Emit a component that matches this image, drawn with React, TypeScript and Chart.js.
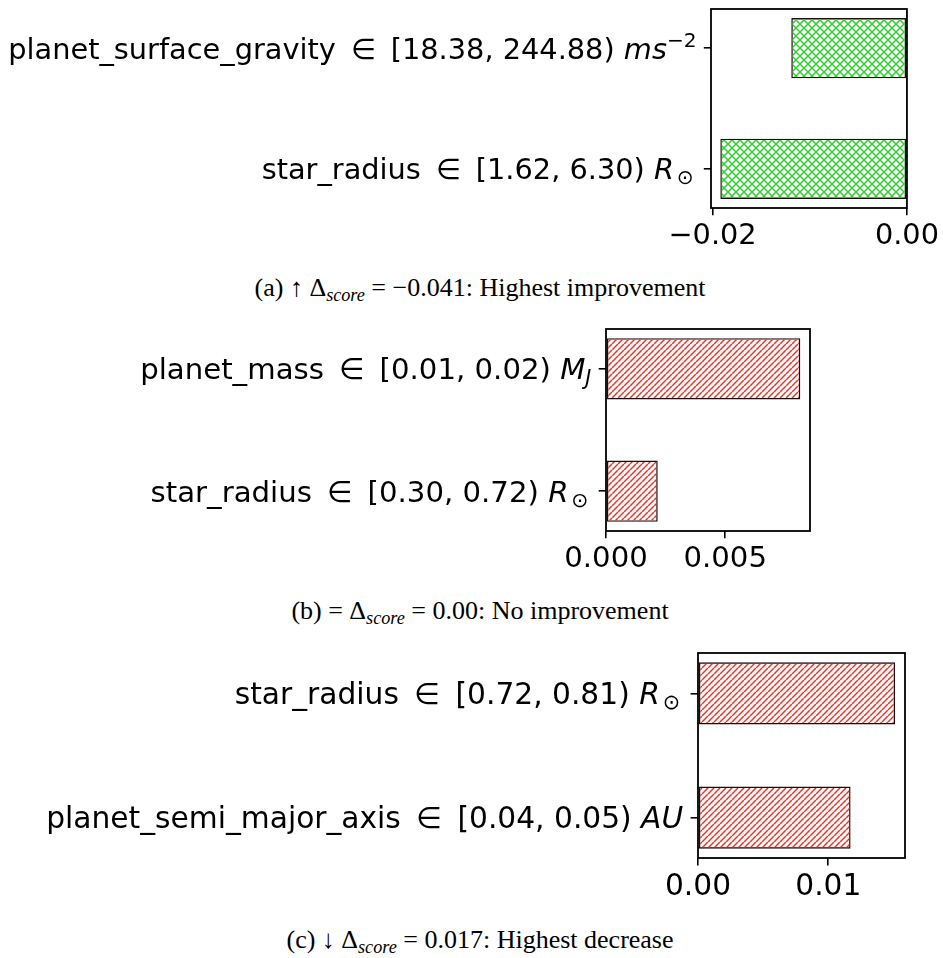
import React, { useEffect, useRef } from "react";
import { Chart, registerables } from "chart.js";
Chart.register(...registerables);

// ---------- data (top-to-bottom order) ----------
const namesA = ["planet_surface_gravity", "star_radius"];
const rangesA = ["[18.38, 244.88)", "[1.62, 6.30)"];
const unitBaseA = ["ms", "R"];
const unitSupA = ["−2", ""];
const unitSubA = ["", "⊙"];
const valuesA = [-0.0119, -0.0192];
const tickValsA = [-0.02, 0];
const tickLabelsA = ["−0.02", "0.00"];

const namesB = ["planet_mass", "star_radius"];
const rangesB = ["[0.01, 0.02)", "[0.30, 0.72)"];
const unitBaseB = ["M", "R"];
const unitSupB = ["", ""];
const unitSubB = ["J", "⊙"];
const valuesB = [0.00815, 0.00217];
const tickValsB = [0, 0.005];
const tickLabelsB = ["0.000", "0.005"];

const namesC = ["star_radius", "planet_semi_major_axis"];
const rangesC = ["[0.72, 0.81)", "[0.04, 0.05)"];
const unitBaseC = ["R", "AU"];
const unitSupC = ["", ""];
const unitSubC = ["⊙", ""];
const valuesC = [0.01513, 0.01171];
const tickValsC = [0, 0.01];
const tickLabelsC = ["0.00", "0.01"];

const captionPrefix = ["(a) ↑ Δ", "(b) = Δ", "(c) ↓ Δ"];
const captionSub = ["score", "score", "score"];
const captionSuffix = [" = −0.041: Highest improvement", " = 0.00: No improvement", " = 0.017: Highest decrease"];

// ---------- styling ----------
const FAM = "'DejaVu Sans'";

function makeHatch(kind: string, color: string, p: number, lw: number) {
  const c = document.createElement("canvas");
  c.width = p;
  c.height = p;
  const g = c.getContext("2d")!;
  g.strokeStyle = color;
  g.lineWidth = lw;
  for (const off of [-p, 0, p]) {
    g.beginPath();
    g.moveTo(off, p);
    g.lineTo(off + p, 0);
    g.stroke();
    if (kind === "x") {
      g.beginPath();
      g.moveTo(off, 0);
      g.lineTo(off + p, p);
      g.stroke();
    }
  }
  return g.createPattern(c, "repeat");
}

type PanelProps = {
  top: number;
  height: number;
  L: number;
  R: number;
  T: number;
  B: number;
  fs: number;
  names: string[];
  ranges: string[];
  unitBase: string[];
  unitSup: string[];
  unitSub: string[];
  values: number[];
  tickVals: number[];
  tickLabels: string[];
  hatch: string;
  hatchColor: string;
  hatchPeriod: number;
};

function Panel(props: PanelProps) {
  const ref = useRef<HTMLCanvasElement | null>(null);
  useEffect(() => {
    const {
      top, height, L, R, T, B, fs, names, ranges, unitBase, unitSup, unitSub,
      values, tickVals, tickLabels, hatch, hatchColor, hatchPeriod,
    } = props;
    const canvas = ref.current!;
    const pattern = makeHatch(hatch, hatchColor, hatchPeriod, 1.5);
    const k = fs / 28;

    const lo = Math.min(0, ...values);
    const hi = Math.max(0, ...values);
    const span = hi - lo;
    const xmin = lo < 0 ? lo - 0.05 * span : 0;
    const xmax = hi > 0 ? hi + 0.05 * span : 0;
    const half = 0.25;
    const ypad = 0.05 * (names.length - 1 + 2 * half);
    const relGap = 0.2 * fs;

    const labelPlugin = {
      id: "ylabels",
      afterDraw(chart: any) {
        const ctx = chart.ctx as CanvasRenderingContext2D;
        const ys = chart.scales.y;
        ctx.save();
        ctx.fillStyle = "#000";
        ctx.textBaseline = "alphabetic";
        ctx.textAlign = "left";
        const rf = `${fs}px ${FAM}`;
        const sf = `${fs * 0.7}px ${FAM}`;
        names.forEach((name, i) => {
          const segs: any[] = [];
          segs.push({ t: name + " ", font: rf, dy: 0 });
          segs.push({ gap: relGap });
          segs.push({ t: "∈", font: rf, dy: 0 });
          segs.push({ gap: relGap });
          segs.push({ t: " " + ranges[i] + " ", font: rf, dy: 0 });
          segs.push({ t: unitBase[i], font: `italic ${fs}px ${FAM}`, dy: 0 });
          if (unitSup[i]) segs.push({ t: unitSup[i], font: sf, dy: -0.4 * fs });
          if (unitSub[i]) {
            if (unitSub[i] === "⊙") {
              segs.push({ gap: 0.1 * fs });
              segs.push({ t: unitSub[i], font: sf, dy: 0.18 * fs });
              segs.push({ gap: 0.1 * fs });
            } else {
              segs.push({ t: unitSub[i], font: `italic ${fs * 0.7}px ${FAM}`, dy: 0.18 * fs });
            }
          }
          let total = 0;
          for (const s of segs) {
            if (s.gap) total += s.gap;
            else {
              ctx.font = s.font;
              s.w = ctx.measureText(s.t).width;
              total += s.w;
            }
          }
          const yb = ys.getPixelForValue(i) + 0.36 * fs;
          let x = chart.chartArea.left - 14 * k - total;
          for (const s of segs) {
            if (s.gap) { x += s.gap; continue; }
            ctx.font = s.font;
            ctx.fillText(s.t, x, yb + s.dy);
            x += s.w;
          }
        });
        ctx.restore();
      },
    };

    const framePlugin = {
      id: "frame",
      afterDatasetsDraw(chart: any) {
        const ctx = chart.ctx as CanvasRenderingContext2D;
        const a = chart.chartArea;
        ctx.save();
        ctx.strokeStyle = "#000";
        ctx.lineWidth = 1.8;
        ctx.strokeRect(a.left, a.top, a.right - a.left, a.bottom - a.top);
        ctx.restore();
      },
    };

    const gridOpts = {
      display: true,
      drawOnChartArea: false,
      drawTicks: true,
      offset: false,
      tickLength: 7 * k,
      lineWidth: 1.6,
      tickWidth: 1.6,
      color: "#000",
      tickColor: "#000",
    };

    const chart = new Chart(canvas, {
      type: "bar",
      data: {
        datasets: [
          {
            data: values.map((v, i) => ({ x: v, y: i })),
            backgroundColor: pattern as any,
            borderColor: "#1a0d0d",
            borderWidth: 1.4,
            borderSkipped: false,
            barPercentage: 0.5,
            categoryPercentage: 1,
          },
        ],
      },
      options: {
        indexAxis: "y",
        responsive: false,
        animation: false,
        layout: { padding: { top: T - top, right: 943 - R, left: 0, bottom: 0 }, autoPadding: false } as any,
        plugins: { legend: { display: false }, tooltip: { enabled: false } },
        scales: {
          x: {
            type: "linear",
            position: "bottom",
            min: xmin,
            max: xmax,
            offset: false,
            afterBuildTicks: (s: any) => {
              s.ticks = tickVals.map((v) => ({ value: v }));
            },
            afterFit: (s: any) => {
              s.height = height - (B - top);
            },
            ticks: {
              callback: (_v: any, i: number) => tickLabels[i],
              font: { family: "DejaVu Sans", size: fs },
              color: "#000",
              padding: 4,
              maxRotation: 0,
              autoSkip: false,
            },
            grid: gridOpts,
            border: { display: false },
          },
          y: {
            type: "linear",
            position: "left",
            reverse: true,
            offset: false,
            min: -half - ypad,
            max: names.length - 1 + half + ypad,
            afterBuildTicks: (s: any) => {
              s.ticks = names.map((_n, i) => ({ value: i }));
            },
            afterFit: (s: any) => {
              s.width = L;
            },
            ticks: { display: false },
            grid: gridOpts,
            border: { display: false },
          },
        },
      } as any,
      plugins: [labelPlugin, framePlugin],
    });
    return () => chart.destroy();
  }, []);
  return (
    <canvas
      ref={ref}
      width={943}
      height={props.height}
      style={{ position: "absolute", left: 0, top: props.top, width: 943, height: props.height, display: "block" }}
    />
  );
}

function Caption({ i, top }: { i: number; top: number }) {
  return (
    <div
      style={{
        position: "absolute",
        left: 0,
        top,
        width: 960,
        textAlign: "center",
        fontFamily: "'Liberation Serif', 'Times New Roman', serif",
        fontSize: 26,
        lineHeight: "26px",
        color: "#000",
        whiteSpace: "nowrap",
      }}
    >
      {captionPrefix[i]}
      <span style={{ fontStyle: "italic", fontSize: "0.7em", verticalAlign: "-0.28em", lineHeight: 0 }}>
        {captionSub[i]}
      </span>
      {captionSuffix[i]}
    </div>
  );
}

export default function App() {
  return (
    <div style={{ position: "absolute", left: 0, top: 0, width: 943, height: 958, background: "#fff" }}>
      <Panel
        top={0} height={265} L={711} R={911} T={9} B={208} fs={28.8}
        names={namesA} ranges={rangesA} unitBase={unitBaseA} unitSup={unitSupA} unitSub={unitSubA}
        values={valuesA} tickVals={tickValsA} tickLabels={tickLabelsA}
        hatch="x" hatchColor="#2fd12f" hatchPeriod={8}
      />
      <Caption i={0} top={275} />
      <Panel
        top={320} height={265} L={606} R={810} T={329} B={531} fs={29.2}
        names={namesB} ranges={rangesB} unitBase={unitBaseB} unitSup={unitSupB} unitSub={unitSubB}
        values={valuesB} tickVals={tickValsB} tickLabels={tickLabelsB}
        hatch="/" hatchColor="#ec3328" hatchPeriod={6}
      />
      <Caption i={1} top={598} />
      <Panel
        top={644} height={265} L={698} R={905} T={653} B={858} fs={29.7}
        names={namesC} ranges={rangesC} unitBase={unitBaseC} unitSup={unitSupC} unitSub={unitSubC}
        values={valuesC} tickVals={tickValsC} tickLabels={tickLabelsC}
        hatch="/" hatchColor="#ec3328" hatchPeriod={6}
      />
      <Caption i={2} top={927} />
    </div>
  );
}
